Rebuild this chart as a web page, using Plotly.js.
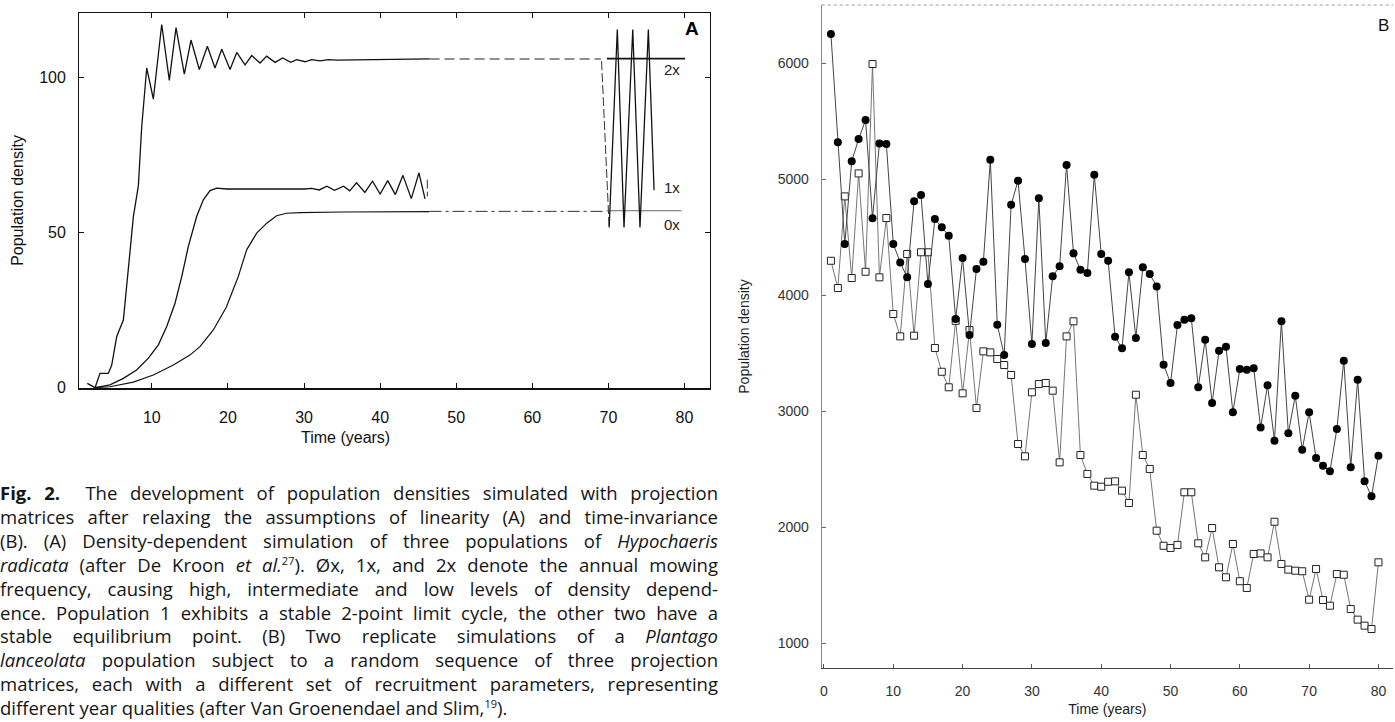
<!DOCTYPE html>
<html>
<head>
<meta charset="utf-8">
<script src="https://cdn.plot.ly/plotly-3.0.1.min.js"></script>
<style>
  html, body { margin: 0; padding: 0; background: #fff; }
  #chart { position: absolute; left: 0; top: 0; width: 1395px; height: 722px; }
  #cap { position: absolute; left: 0; top: 481px; width: 718px; font-family: "Open Sans", "Noto Sans", sans-serif;
         font-size: 18.5px; line-height: 23.9px; color: #151515; z-index: 5; }
  #cap .j { text-align: justify; text-align-last: justify; white-space: nowrap; }
  #cap .l { text-align: left; white-space: nowrap; }
  #cap sup { font-size: 11px; line-height: 0; vertical-align: 7px; }
</style>
</head>
<body>
<div id="chart"></div>
<div id="cap">
  <div class="j"><b>Fig. 2.</b>&nbsp; The development of population densities simulated with projection</div>
  <div class="j">matrices after relaxing the assumptions of linearity (A) and time-invariance</div>
  <div class="j">(B). (A) Density-dependent simulation of three populations of <i>Hypochaeris</i></div>
  <div class="j"><i>radicata</i> (after De Kroon <i>et al.</i><sup>27</sup>). Øx, 1x, and 2x denote the annual mowing</div>
  <div class="j">frequency, causing high, intermediate and low levels of density depend-</div>
  <div class="j">ence. Population 1 exhibits a stable 2-point limit cycle, the other two have a</div>
  <div class="j">stable equilibrium point. (B) Two replicate simulations of a <i>Plantago</i></div>
  <div class="j"><i>lanceolata</i> population subject to a random sequence of three projection</div>
  <div class="j">matrices, each with a different set of recruitment parameters, representing</div>
  <div class="l">different year qualities (after Van Groenendael and Slim,<sup>19</sup>).</div>
</div>
<script>
// ---------- Panel A: density-dependent simulations (Hypochaeris radicata) ----------
const mow2x_t = [1.52, 2.54, 3.19, 4.28, 4.73, 5.39, 6.26, 6.61, 7.14, 7.57, 8.23, 8.67, 9.33, 10.2, 11.3, 12.3, 13.18, 14.27, 15.15, 16.24, 17.3, 18.3, 19.19, 20.28, 21.16, 22.25, 23.13, 24.22, 25.1, 26.19, 27.2, 28.25, 29.04, 30.13, 31.0, 32.1, 33.2, 34.3, 40, 46.5];
const mow2x_v = [1.4, 0, 4.6, 4.6, 7.3, 16.5, 21.8, 30, 44, 55, 65, 84, 103, 93, 117, 99, 116, 101, 112, 102.5, 110, 103, 109, 102.5, 108, 104, 107, 104.6, 106.8, 104.8, 106.2, 104.8, 105.7, 105.0, 105.7, 105.3, 105.7, 105.5, 105.6, 105.9];

const mow1x_t = [2.54, 4.5, 6.26, 8.0, 9.55, 10.86, 11.96, 13.05, 13.93, 14.8, 15.9, 16.77, 17.65, 18.53, 19.84, 25, 30, 31, 32, 33, 34, 35.2, 36.0, 36.9, 38.0, 39.0, 40.0, 41.0, 42.0, 43.0, 44.1, 45.1, 45.9];
const mow1x_v = [0, 0.9, 3, 5.7, 9.5, 13.8, 19.7, 27.2, 35.8, 45.5, 55.2, 60.5, 63.5, 64.3, 64, 63.9, 64, 64.2, 63.7, 64.9, 63.6, 64.9, 63.4, 66.0, 62.9, 66.5, 62.4, 66.7, 62.2, 68.4, 60.9, 69.2, 60.8];

const mow0x_t = [2.54, 4.5, 7.57, 10.2, 12.83, 15.0, 16.33, 18.08, 19.8, 21.36, 22.46, 23.78, 25.1, 26.4, 27.72, 29.47, 35, 46.5];
const mow0x_v = [0, 0.3, 1.8, 4.1, 7.3, 10.5, 13.2, 18.6, 26, 35.8, 44.4, 49.8, 53, 55.4, 56.2, 56.4, 56.6, 56.7];

// long-term part of the runs (years 69-80)
const cycle1x_t = [70.1, 71.17, 72.05, 73.2, 74.15, 75.25, 76.0];
const cycle1x_v = [51.6, 115.4, 51.6, 115.4, 51.6, 115.4, 63.6];
const break1x_t = [46.2, 46.2, null, 69.1, 70.1];
const break1x_v = [67, 61.6, null, 105.2, 51.6];
const gap2x_t = [46.5, 69.0];
const gap2x_v = [105.9, 105.9];
const gap0x_t = [46.5, 69.8];
const gap0x_v = [56.8, 56.8];
const end2x_t = [69.8, 80.07];
const end2x_v = [106, 106];
const end0x_t = [69.8, 79.6];
const end0x_v = [57.0, 57.0];

const labelsA = ['2x', '1x', '0x'];
const labelsA_t = [78.36, 78.36, 78.36];
const labelsA_v = [102.5, 64.6, 52.7];

// ---------- Panel B: Plantago lanceolata replicate simulations ----------
const yearsB = Array.from({length: 80}, (_, i) => i + 1);
const repFilled = [6252, 5319, 4442, 5155, 5347, 5511, 4664, 5310, 5304, 4442,
                   4284, 4155, 4810, 4864, 4097, 4658, 4586, 4514, 3796, 4321,
                   3658, 4227, 4290, 5169, 3747, 3485, 4781, 4988, 4313, 3580,
                   4836, 3589, 4164, 4250, 5123, 4362, 4221, 4192, 5040, 4356,
                   4298, 3643, 3543, 4198, 3632, 4241, 4183, 4077, 3402, 3244,
                   3744, 3790, 3802, 3207, 3617, 3071, 3522, 3557, 2991, 3365,
                   3359, 3371, 2860, 3224, 2747, 3776, 2810, 3134, 2669, 2991,
                   2597, 2531, 2483, 2847, 3436, 2517, 3272, 2397, 2267, 2617];
const repOpen = [4298, 4063, 4853, 4149, 5051, 4203, 5994, 4155, 4666, 3839,
                 3646, 4356, 3652, 4371, 4371, 3546, 3341, 3207, 3780, 3155,
                 3701, 3028, 3517, 3508, 3451, 3399, 3313, 2718, 2612, 3164,
                 3235, 3244, 3178, 2560, 3646, 3776, 2623, 2460, 2359, 2350,
                 2393, 2396, 2316, 2210, 3143, 2623, 2503, 1971, 1841, 1822,
                 1848, 2302, 2302, 1862, 1741, 1994, 1655, 1569, 1856, 1535,
                 1477, 1770, 1775, 1741, 2048, 1684, 1635, 1626, 1621, 1376,
                 1641, 1373, 1324, 1597, 1591, 1296, 1204, 1152, 1123, 1698];

const ticksA_x = [0, 10, 20, 30, 40, 50, 60, 70, 80];
const ticksA_y = [0, 50, 100];
const ticksB_x = [0, 10, 20, 30, 40, 50, 60, 70, 80];
const ticksB_y = [1000, 2000, 3000, 4000, 5000, 6000];

const FONT = '"Liberation Sans", Arial, sans-serif';

function lineA(x, y, opts) {
  return Object.assign({x: x, y: y, xaxis: 'x', yaxis: 'y', mode: 'lines', hoverinfo: 'skip',
    line: {color: '#111', width: 1.3}}, opts || {});
}

const traces = [
  lineA(mow0x_t, mow0x_v, {line: {color: '#111', width: 1.2}}),
  lineA(mow1x_t, mow1x_v, {line: {color: '#111', width: 1.3}}),
  lineA(mow2x_t, mow2x_v, {line: {color: '#111', width: 1.3}}),
  lineA(gap2x_t, gap2x_v, {line: {color: '#222', width: 1.1, dash: '10px,5px'}}),
  lineA(gap0x_t, gap0x_v, {line: {color: '#333', width: 1.0, dash: '12px,4px,3px,4px'}}),
  lineA(break1x_t, break1x_v, {line: {color: '#333', width: 1.0, dash: '9px,3px'}}),
  lineA(end2x_t, end2x_v, {line: {color: '#111', width: 1.6}}),
  lineA(end0x_t, end0x_v, {line: {color: '#555', width: 0.9}}),
  lineA(cycle1x_t, cycle1x_v, {line: {color: '#111', width: 1.3}}),
  {
    x: yearsB, y: repOpen, xaxis: 'x2', yaxis: 'y2', mode: 'lines+markers', hoverinfo: 'skip',
    line: {color: '#666', width: 0.9},
    marker: {symbol: 'square', size: 7, color: '#fff', line: {color: '#222', width: 1}}
  },
  {
    x: yearsB, y: repFilled, xaxis: 'x2', yaxis: 'y2', mode: 'lines+markers', hoverinfo: 'skip',
    line: {color: '#444', width: 1},
    marker: {symbol: 'circle', size: 8, color: '#000'}
  }
];

const annotations = labelsA.map((t, i) => ({
  text: t, x: labelsA_t[i], y: labelsA_v[i], xref: 'x', yref: 'y', showarrow: false,
  xanchor: 'center', yanchor: 'middle', font: {family: FONT, size: 15, color: '#222'}
}));
annotations.push(
  {text: '<b>A</b>', xref: 'paper', yref: 'paper', x: 691.7 / 1395, y: 1 - 28.3 / 722, showarrow: false,
   xanchor: 'center', yanchor: 'middle', font: {family: FONT, size: 19, color: '#000'}},
  {text: 'B', xref: 'paper', yref: 'paper', x: 1383 / 1395, y: 1 - 25 / 722, showarrow: false,
   xanchor: 'center', yanchor: 'middle', font: {family: FONT, size: 17, color: '#111'}},
  {text: 'Time (years)', xref: 'paper', yref: 'paper', x: 345 / 1395, y: 1 - 437 / 722, showarrow: false,
   xanchor: 'center', yanchor: 'middle', font: {family: FONT, size: 16, color: '#111'}}
);

const layout = {
  width: 1395, height: 722,
  margin: {l: 0, r: 0, t: 0, b: 0},
  paper_bgcolor: '#fff', plot_bgcolor: 'rgba(0,0,0,0)',
  showlegend: false,
  xaxis: {
    domain: [79.3 / 1395, 710 / 1395], anchor: 'y', range: [0.47, 83.35],
    tickmode: 'array', tickvals: ticksA_x, ticktext: ticksA_x.map(String),
    showgrid: false, zeroline: false, showline: true, linecolor: '#111', linewidth: 1.2,
    mirror: 'ticks', ticks: 'inside', ticklen: 5, tickcolor: '#111', tickwidth: 1,
    ticklabelstandoff: 14,
    tickfont: {family: FONT, size: 16, color: '#111'}
  },
  yaxis: {
    domain: [1 - 388.3 / 722, 1 - 12.7 / 722], anchor: 'x', range: [-0.2, 120.8],
    tickmode: 'array', tickvals: ticksA_y, ticktext: ticksA_y.map(String),
    showgrid: false, zeroline: false, showline: true, linecolor: '#111', linewidth: 1.2,
    mirror: 'ticks', ticks: 'inside', ticklen: 5, tickcolor: '#111', tickwidth: 1,
    ticklabelstandoff: 9,
    tickfont: {family: FONT, size: 16, color: '#111'},
    title: {text: 'Population density', standoff: 11, font: {family: FONT, size: 16, color: '#111'}}
  },
  xaxis2: {
    domain: [821.7 / 1395, 1393 / 1395], anchor: 'y2', range: [-0.33, 82.1],
    tickmode: 'array', tickvals: ticksB_x, ticktext: ticksB_x.map(String),
    showgrid: false, zeroline: false, showline: true, linecolor: '#444', linewidth: 1,
    ticks: 'inside', ticklen: 4, tickcolor: '#555', tickwidth: 1,
    ticklabelstandoff: 10,
    tickfont: {family: FONT, size: 14, color: '#333'},
    title: {text: 'Time (years)', standoff: 6, font: {family: FONT, size: 14, color: '#222'}}
  },
  yaxis2: {
    domain: [1 - 668 / 722, 1 - 5 / 722], anchor: 'x2', range: [787, 6503],
    tickmode: 'array', tickvals: ticksB_y, ticktext: ticksB_y.map(String),
    showgrid: false, zeroline: false, showline: true, linecolor: '#888', linewidth: 1,
    ticks: 'inside', ticklen: 4, tickcolor: '#666', tickwidth: 1,
    ticklabelstandoff: 9,
    tickfont: {family: FONT, size: 14, color: '#333'},
    title: {text: 'Population density', standoff: 24, font: {family: FONT, size: 14, color: '#222'}}
  },
  shapes: [
    {type: 'line', xref: 'paper', yref: 'paper', x0: 821.7 / 1395, x1: 1393 / 1395,
     y0: 1 - 5 / 722, y1: 1 - 5 / 722, line: {color: '#999', width: 1, dash: 'dot'}}
  ],
  annotations: annotations
};

Plotly.newPlot('chart', traces, layout, {staticPlot: true, displayModeBar: false});
</script>
</body>
</html>
